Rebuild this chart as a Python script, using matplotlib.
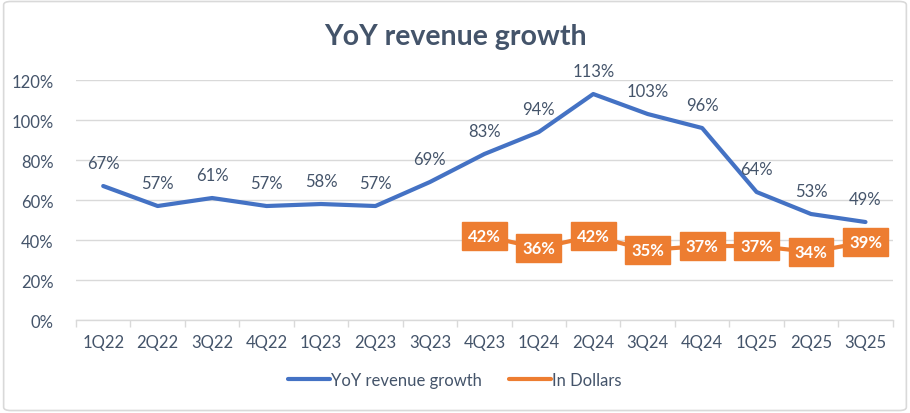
import matplotlib
matplotlib.use("Agg")
import matplotlib.pyplot as plt
from matplotlib.patches import FancyBboxPatch
from matplotlib.ticker import FuncFormatter, MultipleLocator

quarters = ["1Q22", "2Q22", "3Q22", "4Q22", "1Q23", "2Q23", "3Q23", "4Q23",
            "1Q24", "2Q24", "3Q24", "4Q24", "1Q25", "2Q25", "3Q25"]
yoy_growth = [67, 57, 61, 57, 58, 57, 69, 83, 94, 113, 103, 96, 64, 53, 49]
dollar_quarters = ["4Q23", "1Q24", "2Q24", "3Q24", "4Q24", "1Q25", "2Q25", "3Q25"]
in_dollars = [42, 36, 42, 35, 37, 37, 34, 39]

BLUE = "#4472C4"
ORANGE = "#ED7D31"
TEXT = "#44546A"
GRID = "#D9D9D9"

plt.rcParams['font.family'] = ['Lato', 'DejaVu Sans']

fig = plt.figure(figsize=(9.1, 4.14), dpi=100)
ax = fig.add_axes([0.0835, 0.2246, 0.8975, 0.5797])

x = list(range(len(quarters)))
xd = [quarters.index(q) for q in dollar_quarters]

ax.plot(x, yoy_growth, color=BLUE, lw=3, solid_capstyle='round', zorder=3,
        label="YoY revenue growth")
ax.plot(xd, in_dollars, color=ORANGE, lw=3, solid_capstyle='round', zorder=3,
        label="In Dollars")

for xi, v in zip(x, yoy_growth):
    ax.annotate(f"{v}%", (xi, v), xytext=(0, 23), textcoords='offset pixels',
                ha='center', va='center', fontsize=12, color=TEXT, zorder=4)

for xi, v in zip(xd, in_dollars):
    ax.annotate(f"{v}%", (xi, v), xytext=(0, 0), textcoords='offset pixels',
                ha='center', va='center', fontsize=12, color='white',
                fontweight='bold', zorder=5,
                bbox=dict(boxstyle='square,pad=0.36', fc=ORANGE, ec=ORANGE))

ax.set_xlim(-0.5, len(quarters) - 0.5)
ax.set_ylim(0, 120)
ax.yaxis.set_major_locator(MultipleLocator(20))
ax.yaxis.set_major_formatter(FuncFormatter(lambda v, p: f"{v:.0f}%"))
ax.set_xticks(x)
ax.set_xticklabels(quarters)
ax.set_xticks([i - 0.5 for i in range(len(quarters) + 1)], minor=True)
ax.tick_params(axis='x', which='major', length=0, pad=10, labelsize=12, labelcolor=TEXT)
ax.tick_params(axis='x', which='minor', length=5, color=GRID, width=1)
ax.tick_params(axis='y', length=0, pad=16, labelsize=12, labelcolor=TEXT)
ax.grid(axis='y', color=GRID, lw=1, zorder=0)
ax.set_axisbelow(True)
for s in ['top', 'right', 'left']:
    ax.spines[s].set_visible(False)
ax.spines['bottom'].set_color(GRID)
ax.spines['bottom'].set_linewidth(1)

fig.text(0.5, 0.911, "YoY revenue growth", ha='center', va='center',
         fontsize=20.5, fontweight='bold', color=TEXT)

leg = fig.legend(loc='center', bbox_to_anchor=(0.5, 0.08), ncol=2, frameon=False,
                 fontsize=12, handlelength=2.5, handletextpad=0.1, columnspacing=1.6)
for t in leg.get_texts():
    t.set_color(TEXT)

border = FancyBboxPatch((0.004, 0.006), 0.992, 0.988, boxstyle='round,pad=0,rounding_size=0.008',
                        transform=fig.transFigure, fc='none', ec=GRID, lw=1.2)
fig.patches.append(border)

fig.savefig("out.png", dpi=100)
